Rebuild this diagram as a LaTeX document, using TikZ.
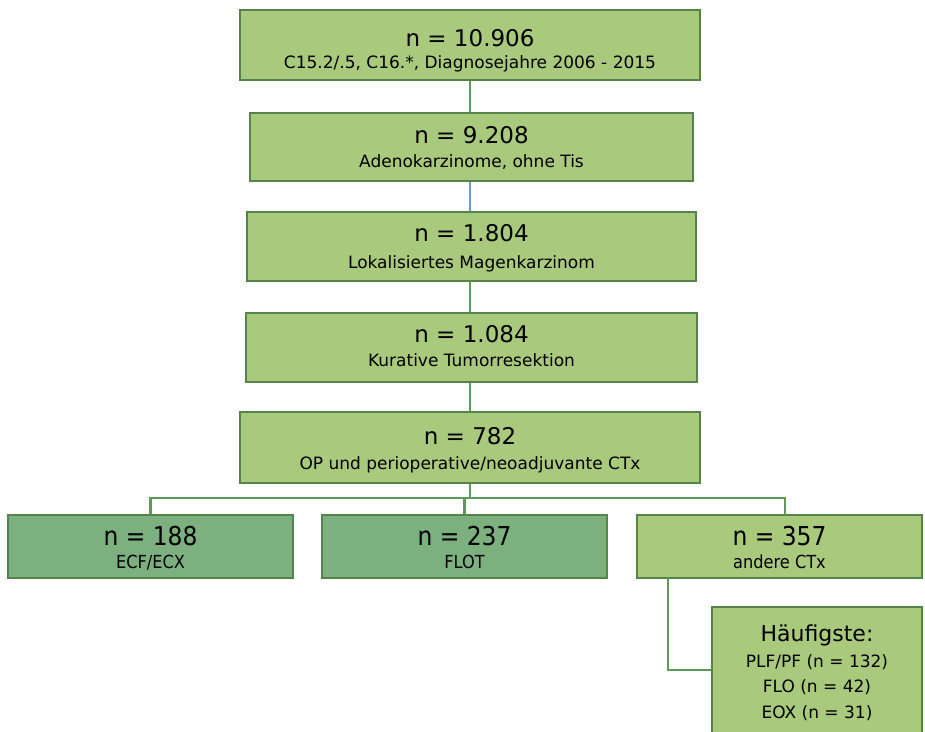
\documentclass[tikz,border=0pt]{standalone}
\usepackage{fontspec}
\setmainfont{DejaVu Sans}
\newfontfamily\condfont{DejaVu Sans Condensed}
\definecolor{lightfill}{HTML}{A9C97D}
\definecolor{darkfill}{HTML}{7DB07F}
\definecolor{boxborder}{HTML}{55834A}
\definecolor{conn}{HTML}{5C9C58}
\definecolor{blueconn}{HTML}{6A9AD0}
\tikzset{
  box/.style={draw=boxborder, line width=1.8pt, fill=lightfill, inner sep=0pt},
  dbox/.style={box, fill=darkfill},
  big/.style={anchor=base, inner sep=0pt, font=\fontsize{23}{27}\selectfont},
  small/.style={anchor=base, inner sep=0pt, font=\fontsize{17}{20}\selectfont},
  cbig/.style={anchor=base, inner sep=0pt, font=\condfont\fontsize{26}{30}\selectfont},
  csmall/.style={anchor=base, inner sep=0pt, font=\condfont\fontsize{18}{21}\selectfont},
  link/.style={draw=conn, line width=2.2pt},
}
\begin{document}
\begin{tikzpicture}[x=1pt,y=-1pt]
\useasboundingbox (0,0) rectangle (925,731);
% main boxes
\node[box, minimum width=460, minimum height=70] (b1) at (470,45) {};
\node[box, minimum width=443, minimum height=68] (b2) at (471.5,147) {};
\node[box, minimum width=449, minimum height=69] (b3) at (471.5,246.5) {};
\node[box, minimum width=451, minimum height=69] (b4) at (471.5,347.5) {};
\node[box, minimum width=460, minimum height=71] (b5) at (470,447.5) {};
\node[big] (t1) at (470,46) {n = 10.906};
\node[small] (s1) at (470,68) {C15.2/.5, C16.*, Diagnosejahre 2006 - 2015};
\node[big] (t2) at (471.5,143) {n = 9.208};
\node[small] (s2) at (471.5,167) {Adenokarzinome, ohne Tis};
\node[big] (t3) at (471.5,241) {n = 1.804};
\node[small] (s3) at (471.5,268) {Lokalisiertes Magenkarzinom};
\node[big] (t4) at (471.5,342) {n = 1.084};
\node[small] (s4) at (471.5,366) {Kurative Tumorresektion};
\node[big] (t5) at (470,444) {n = 782};
\node[small] (s5) at (470,469) {OP und perioperative/neoadjuvante CTx};
% bottom boxes
\node[dbox, minimum width=285, minimum height=63] (c1) at (150.5,546.5) {};
\node[dbox, minimum width=285, minimum height=63] (c2) at (464.5,546.5) {};
\node[box, minimum width=285, minimum height=63] (c3) at (779.5,546.5) {};
\node[cbig] (u1) at (150.5,545) {n = 188};
\node[csmall] (v1) at (150.5,568) {ECF/ECX};
\node[cbig] (u2) at (464.5,545) {n = 237};
\node[csmall] (v2) at (464.5,568) {FLOT};
\node[cbig] (u3) at (779.5,545) {n = 357};
\node[csmall] (v3) at (779.5,568) {andere CTx};
% detail box
\node[box, minimum width=210, minimum height=140] (d) at (817,677) {};
\node[anchor=base, inner sep=0pt, font=\fontsize{22}{26}\selectfont] (h0) at (817,641) {Häufigste:};
\node[small] (h1) at (817,667) {PLF/PF (n = 132)};
\node[small] (h2) at (817,692) {FLO (n = 42)};
\node[small] (h3) at (817,718) {EOX (n = 31)};
% connectors
\path[link] (b1.south) -- (b1.south |- b2.north);
\path[draw=blueconn, line width=2.2pt] (b1.south |- b2.south) -- (b1.south |- b3.north);
\path[link] (b1.south |- b3.south) -- (b1.south |- b4.north);
\path[link] (b1.south |- b4.south) -- (b5.north);
\coordinate (split) at (470,498);
\coordinate (rtop) at (785,515);
\coordinate (dk) at (668,578);
\path[link] (b5.south) -- (split);
\path[link] (c1.north) |- (split) -| (rtop);
\path[link] (c2.north) -- (c2.north |- split);
\path[link] (dk) |- (d.west |- 0,670);
\end{tikzpicture}
\end{document}
